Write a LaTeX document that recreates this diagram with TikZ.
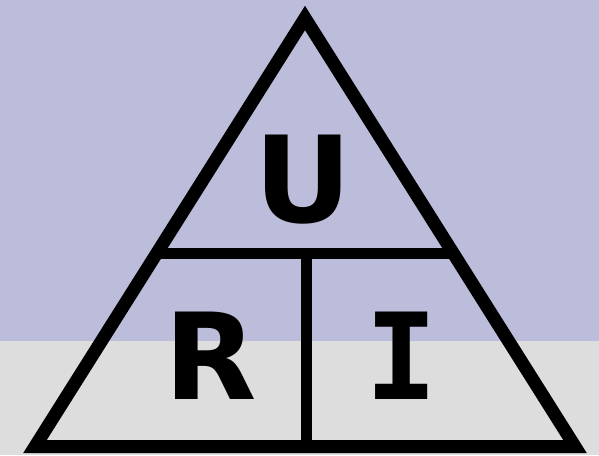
\documentclass[tikz,border=0pt]{standalone}
\usepackage{fontspec}
\newfontfamily\ohmsans{DejaVu Sans}
\newfontfamily\ohmmono{DejaVu Sans Mono}
\usepackage{tikz}
\usetikzlibrary{positioning,calc}
\definecolor{toplav}{RGB}{187,189,219}
\definecolor{lowgray}{RGB}{221,221,221}

\begin{document}
\begin{tikzpicture}[x=1pt,y=-1pt,
	letter/.style={inner sep=0pt,anchor=base}]
			
			\fill[toplav] (0,0) rectangle (599,341);
			\fill[lowgray] (0,341) rectangle (599,455);
			\useasboundingbox (0,0) rectangle (599,455);
			
			\coordinate (apex) at (305,18);
			\coordinate (bl) at (35,446.5);
			\coordinate (br) at (575,446.5);
			\coordinate (hl) at ($(bl)!0.4504!(apex)$);
			\coordinate (hr) at ($(br)!0.4504!(apex)$);
			\coordinate (vt) at (306,253.5);
			\coordinate (vb) at (306,446.5);
			
			\draw[line width=13pt,line join=miter] (apex)--(bl)--(br)--cycle;
			\draw[line width=11pt] (hl)--(hr);
			\draw[line width=11pt] (vt)--(vb);
			
			\node[letter,font=\ohmsans\fontsize{120}{120}\selectfont\bfseries] (u) at (303.5,222) {U};
			\node[letter,font=\ohmsans\fontsize{120}{120}\selectfont\bfseries] (r) at (210.5,399) {R};
			\node[letter,font=\ohmmono\fontsize{120}{120}\selectfont\bfseries] (i) at (401.5,399) {I};
			
		\end{tikzpicture}
\end{document}
